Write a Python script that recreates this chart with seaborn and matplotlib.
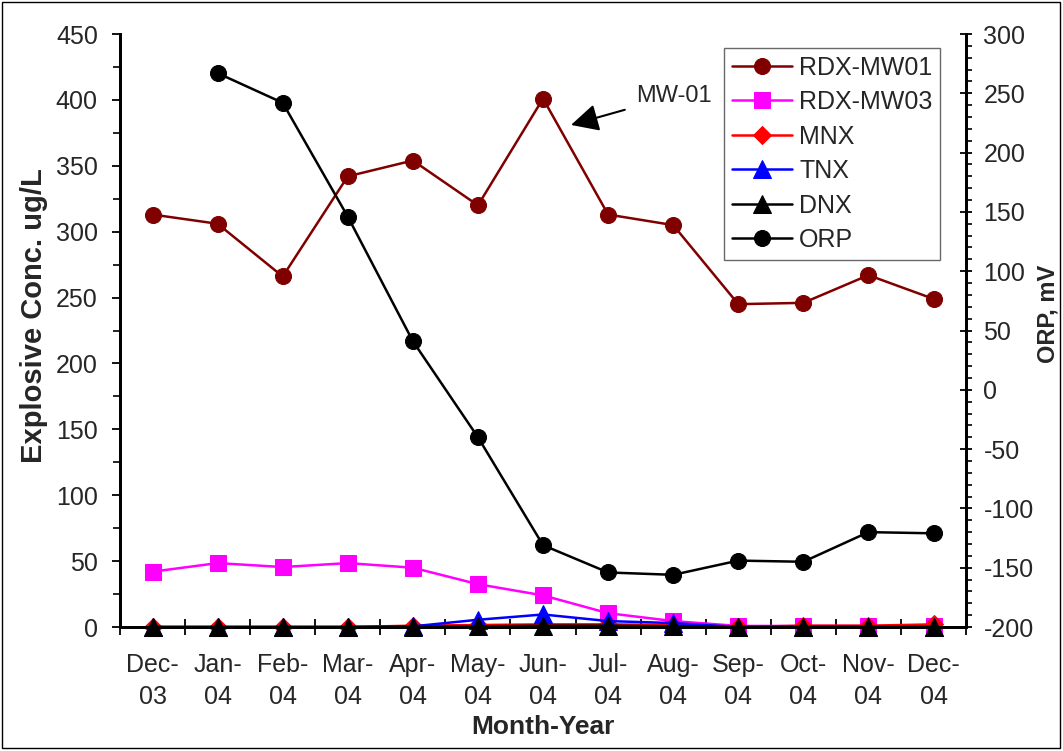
import matplotlib
matplotlib.use('Agg')
import matplotlib.pyplot as plt
from matplotlib.patches import Rectangle
from matplotlib.ticker import MultipleLocator
import seaborn as sns
import numpy as np

# month labels (two-line, Excel style)
months = ['Dec-\n03', 'Jan-\n04', 'Feb-\n04', 'Mar-\n04', 'Apr-\n04', 'May-\n04', 'Jun-\n04',
          'Jul-\n04', 'Aug-\n04', 'Sep-\n04', 'Oct-\n04', 'Nov-\n04', 'Dec-\n04']

# explosive concentrations, ug/L
rdx_mw01 = [313, 306, 266, 342, 354, 320, 401, 313, 305, 245, 246, 267, 249]
rdx_mw03 = [42, 48.5, 45.5, 48.5, 45, 32.5, 24, 10.5, 4.5, 0.8, 0.8, 0.8, 0.8]
mnx = [0, 0, 0, 0, 1, 1.5, 2, 2, 1.5, 0, 1, 1, 2]
tnx = [0, 0, 0, 0, 0.5, 5.5, 9.5, 4.5, 3, 0, 0, 0, 0]
dnx = [0, 0, 0, 0, 0, 0.5, 1, 1, 0.5, 0, 0, 0, 0]

# ORP, mV (no reading for Dec-03)
orp = [np.nan, 267, 242, 146, 41, -40, -131, -154, -156, -144, -145, -120, -121]

sns.set_theme(style='white')
plt.rcParams['font.family'] = ['Liberation Sans', 'DejaVu Sans']
plt.rcParams['axes.unicode_minus'] = False

fig = plt.figure(figsize=(10.63, 7.51), dpi=100)
ax = fig.add_axes([0.1129, 0.1651, 0.7959, 0.7896])
ax2 = ax.twinx()

x = np.arange(len(months))
series = [
    ('RDX-MW01', rdx_mw01, '#800000', 'o', 11.5),
    ('RDX-MW03', rdx_mw03, '#FF00FF', 's', 11.5),
    ('MNX', mnx, '#FF0000', 'D', 9),
    ('TNX', tnx, '#0000FF', '^', 13),
    ('DNX', dnx, 'black', '^', 13),
]
for name, vals, col, mk, ms in series:
    sns.lineplot(x=x, y=vals, ax=ax, color=col, marker=mk, markersize=ms,
                 markeredgecolor=col, linewidth=1.8, label=name, clip_on=False)

sns.lineplot(x=x, y=orp, ax=ax2, color='black', marker='o', markersize=11.5,
             markeredgecolor='black', linewidth=1.8, label='ORP')

for a in (ax, ax2):
    if a.get_legend() is not None:
        a.get_legend().remove()

# axes limits / ticks
ax.set_xlim(-0.5, 12.5)
ax.set_ylim(0, 450)
ax2.set_ylim(-200, 300)
ax.yaxis.set_major_locator(MultipleLocator(50))
ax.yaxis.set_minor_locator(MultipleLocator(25))
ax2.yaxis.set_major_locator(MultipleLocator(50))
ax2.yaxis.set_minor_locator(MultipleLocator(10))

ax.set_xticks(x)
ax.set_xticklabels(months, linespacing=1.4)
ax.set_xticks(np.arange(-0.5, 13, 1), minor=True)
ax.tick_params(axis='x', which='major', length=0, pad=19, labelsize=18)
ax.tick_params(axis='x', which='minor', direction='inout', length=12, width=1.3, color='black', bottom=True)
ax.tick_params(axis='y', which='major', direction='out', length=6, width=1.3, pad=10,
               labelsize=18, color='black', left=True)
ax.tick_params(axis='y', which='minor', direction='out', length=5, width=1.2, color='black', left=True)
ax2.tick_params(axis='y', which='major', direction='inout', length=9, width=1.3, pad=8,
                labelsize=18, color='black', right=True)
ax2.tick_params(axis='y', which='minor', direction='out', length=4, width=1.2, color='black', right=True)

for a in (ax, ax2):
    a.spines['top'].set_visible(False)
    for s in ('left', 'right', 'bottom'):
        a.spines[s].set_color('black')
        a.spines[s].set_linewidth(2)
    a.grid(False)

ax.set_xlabel('Month-Year', fontsize=19, fontweight='bold', labelpad=4)
ax.set_ylabel('Explosive Conc. ug/L', fontsize=21, fontweight='bold')
ax.yaxis.set_label_coords(-0.085, 0.525)
ax2.set_ylabel('ORP, mV', fontsize=17, fontweight='bold')
ax2.yaxis.set_label_coords(1.083, 0.528)

# annotation
ax.annotate('MW-01', xy=(6.43, 381), xytext=(7.43, 403), fontsize=17,
            ha='left', va='center',
            arrowprops=dict(arrowstyle='-|>', color='black', lw=1.5,
                            mutation_scale=42, shrinkA=6, shrinkB=0))

# combined legend
h1, l1 = ax.get_legend_handles_labels()
h2, l2 = ax2.get_legend_handles_labels()
leg = ax2.legend(h1 + h2, l1 + l2, loc='upper right', bbox_to_anchor=(0.9693, 0.9764),
                 fontsize=18, frameon=True, fancybox=False, shadow=False,
                 handlelength=2.4, labelspacing=0.42, borderpad=0.3, handletextpad=0.3,
                 borderaxespad=0)
leg.get_frame().set_edgecolor('#444444')
leg.get_frame().set_linewidth(1)

# chart-area border
fig.patches.append(Rectangle((0.002, 0.004), 0.995, 0.993, transform=fig.transFigure,
                             fill=False, edgecolor='black', linewidth=1))

fig.savefig('out.png', dpi=100)
